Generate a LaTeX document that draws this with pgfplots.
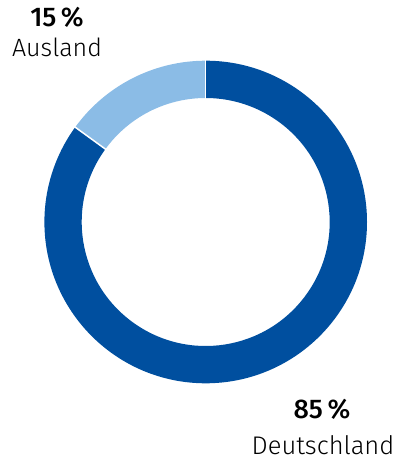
\documentclass[border=0pt]{standalone}
\usepackage{pgfplots}
\pgfplotsset{compat=1.18}
\usepackage{fontspec}
\setmainfont{Fira Sans Light}[BoldFont=Fira Sans Medium]
\definecolor{dblue}{HTML}{004F9F}
\definecolor{lblue}{HTML}{8BBCE6}
% values (percent)
\def\valDE{85}
\def\valAU{15}
\begin{document}
\begin{tikzpicture}
\begin{axis}[
  scale only axis, width=401bp, height=461bp,
  xmin=0, xmax=401, ymin=0, ymax=461,
  hide axis, clip=false,
]
\path (axis cs:0,0) rectangle (axis cs:401,461);
\pgfmathsetmacro{\aStart}{90}
\pgfmathsetmacro{\aDE}{90-3.6*\valDE}
\pgfmathsetmacro{\aAU}{\aDE-3.6*\valAU}
% Deutschland
\fill[dblue] (axis cs:205.7,239) ++(\aStart:161.3bp) arc[start angle=\aStart, end angle=\aDE, radius=161.3bp]
  -- ++(\aDE+180:37.3bp) arc[start angle=\aDE, end angle=\aStart, radius=124bp] -- cycle;
% Ausland
\fill[lblue] (axis cs:205.7,239) ++(\aDE:161.3bp) arc[start angle=\aDE, end angle=\aAU, radius=161.3bp]
  -- ++(\aAU+180:37.3bp) arc[start angle=\aAU, end angle=\aDE, radius=124bp] -- cycle;
\draw[white, line width=1.5bp] (axis cs:205.7,239) ++(\aStart:123bp) -- ++(\aStart:40bp);
\draw[white, line width=1.5bp] (axis cs:205.7,239) ++(\aDE:123bp) -- ++(\aDE:40bp);
\node[font=\fontsize{27bp}{30bp}\selectfont\bfseries, anchor=base, inner sep=0pt] at (axis cs:57,434) {15\,\%};
\node[font=\fontsize{25bp}{28bp}\selectfont, anchor=base, inner sep=0pt] at (axis cs:57,404) {Ausland};
\node[font=\fontsize{27bp}{30bp}\selectfont\bfseries, anchor=base, inner sep=0pt] at (axis cs:322,42) {85\,\%};
\node[font=\fontsize{25.5bp}{28bp}\selectfont, anchor=base, inner sep=0pt] at (axis cs:323,7) {Deutschland};
\end{axis}
\end{tikzpicture}
\end{document}
